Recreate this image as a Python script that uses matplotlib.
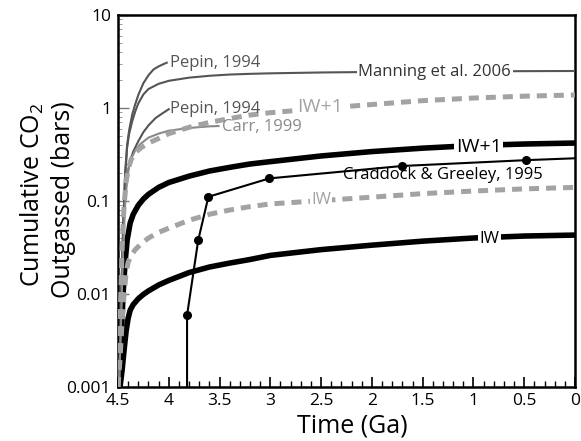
import matplotlib
matplotlib.use('Agg')
import matplotlib.pyplot as plt
from matplotlib.ticker import FixedLocator, FixedFormatter, MultipleLocator, LogLocator, NullFormatter

plt.rcParams['font.family'] = ['Open Sans', 'DejaVu Sans']
plt.rcParams['mathtext.fontset'] = 'custom'
plt.rcParams['mathtext.rm'] = 'Open Sans'
plt.rcParams['mathtext.default'] = 'regular'

# ---- data (time in Ga, cumulative CO2 in bars) ----
manning_t = [4.49, 4.47, 4.45, 4.43, 4.41, 4.39, 4.36, 4.33, 4.30, 4.25, 4.2, 4.1, 4.0, 3.8, 3.6, 3.4,
             3.2, 3.0, 2.5, 2.0, 1.5, 1.0, 0.5, 0.0]
manning_y = [0.001, 0.008, 0.05, 0.18, 0.38, 0.53, 0.72, 0.92, 1.12, 1.4, 1.6, 1.82, 1.96, 2.12, 2.22, 2.29,
             2.33, 2.36, 2.41, 2.44, 2.46, 2.48, 2.49, 2.5]

pepin_hi_t = [4.49, 4.47, 4.45, 4.43, 4.41, 4.39, 4.36, 4.33, 4.30, 4.25, 4.2, 4.15, 4.1, 4.05, 4.02]
pepin_hi_y = [0.001, 0.008, 0.05, 0.2, 0.4, 0.58, 0.85, 1.1, 1.38, 1.85, 2.25, 2.6, 2.8, 2.97, 3.07]

pepin_lo_t = [4.49, 4.47, 4.45, 4.43, 4.41, 4.38, 4.35, 4.30, 4.25, 4.2, 4.13, 4.06, 4.0]
pepin_lo_y = [0.001, 0.006, 0.04, 0.11, 0.19, 0.27, 0.34, 0.44, 0.55, 0.65, 0.78, 0.88, 0.97]

carr_t = [4.49, 4.47, 4.45, 4.43, 4.41, 4.39, 4.36, 4.33, 4.28, 4.2, 4.1, 4.0, 3.8, 3.6, 3.51]
carr_y = [0.001, 0.005, 0.03, 0.09, 0.17, 0.24, 0.3, 0.35, 0.41, 0.48, 0.53, 0.57, 0.61, 0.635, 0.64]

iw1_gray_t = [4.50, 4.48, 4.46, 4.44, 4.42, 4.40, 4.37, 4.33, 4.28, 4.2, 4.1, 4.0, 3.8, 3.6, 3.4, 3.2,
              3.0, 2.5, 2.0, 1.5, 1.0, 0.5, 0.0]
iw1_gray_y = [0.001, 0.005, 0.03, 0.09, 0.16, 0.22, 0.28, 0.33, 0.37, 0.42, 0.47, 0.53, 0.62, 0.7, 0.77, 0.84,
              0.89, 0.99, 1.09, 1.2, 1.28, 1.34, 1.38]

iw_gray_t = [4.50, 4.48, 4.46, 4.44, 4.42, 4.40, 4.37, 4.33, 4.28, 4.2, 4.1, 4.0, 3.8, 3.6, 3.4, 3.2,
             3.0, 2.5, 2.0, 1.5, 1.0, 0.5, 0.0]
iw_gray_y = [0.001, 0.002, 0.005, 0.01, 0.017, 0.022, 0.026, 0.03, 0.034, 0.04, 0.046, 0.051, 0.062, 0.072,
             0.08, 0.087, 0.093, 0.101, 0.11, 0.12, 0.128, 0.135, 0.14]

iw1_black_t = [4.49, 4.47, 4.45, 4.43, 4.41, 4.38, 4.35, 4.30, 4.25, 4.2, 4.1, 4.0, 3.8, 3.6, 3.4, 3.2,
               3.0, 2.5, 2.0, 1.5, 1.0, 0.5, 0.0]
iw1_black_y = [0.001, 0.003, 0.01, 0.022, 0.038, 0.058, 0.072, 0.09, 0.105, 0.118, 0.14, 0.158, 0.185, 0.21,
               0.23, 0.25, 0.265, 0.305, 0.34, 0.37, 0.395, 0.41, 0.42]

iw_black_t = [4.48, 4.46, 4.44, 4.42, 4.40, 4.38, 4.35, 4.30, 4.25, 4.2, 4.1, 4.0, 3.8, 3.6, 3.4, 3.2,
              3.0, 2.5, 2.0, 1.5, 1.0, 0.5, 0.0]
iw_black_y = [0.001, 0.0015, 0.0025, 0.004, 0.0055, 0.0067, 0.0077, 0.0089, 0.0099, 0.0108, 0.0125, 0.014,
              0.017, 0.0195, 0.0215, 0.0235, 0.026, 0.030, 0.0335, 0.037, 0.040, 0.042, 0.043]

craddock_t = [3.82, 3.82, 3.71, 3.61, 3.01, 1.70, 0.48, 0.0]
craddock_y = [0.0008, 0.0059, 0.038, 0.111, 0.175, 0.238, 0.275, 0.288]
craddock_mark_t = [3.82, 3.71, 3.61, 3.01, 1.70, 0.48]
craddock_mark_y = [0.0059, 0.038, 0.111, 0.175, 0.238, 0.275]

x_ticks = [4.5, 4.0, 3.5, 3.0, 2.5, 2.0, 1.5, 1.0, 0.5, 0.0]
x_ticklabels = ['4.5', '4', '3.5', '3', '2.5', '2', '1.5', '1', '0.5', '0']
y_ticks = [0.001, 0.01, 0.1, 1, 10]
y_ticklabels = ['0.001', '0.01', '0.1', '1', '10']

# ---- figure ----
W, H = 581, 441
fig = plt.figure(figsize=(W / 100, H / 100), dpi=100)
ax = fig.add_axes([118 / W, 1 - 387 / H, 457 / W, 372 / H])
ax.set_yscale('log')
ax.set_xlim(4.5, 0)
ax.set_ylim(0.001, 10)

dgray = '#555555'
mgray = '#8a8a8a'
lgray = '#a3a3a3'

ax.plot(manning_t, manning_y, color=dgray, lw=1.5, zorder=3)
ax.plot(pepin_hi_t, pepin_hi_y, color=dgray, lw=1.5, zorder=3)
ax.plot(pepin_lo_t, pepin_lo_y, color=dgray, lw=1.5, zorder=3)
ax.plot(carr_t, carr_y, color=mgray, lw=1.5, zorder=3)

ax.plot(iw1_black_t, iw1_black_y, color='black', lw=4.0, zorder=2, solid_capstyle='butt')
ax.plot(iw_black_t, iw_black_y, color='black', lw=4.0, zorder=2, solid_capstyle='butt')

l1, = ax.plot(iw1_gray_t, iw1_gray_y, color=lgray, lw=3.6, zorder=4)
l1.set_dashes((2.0, 1.4))
l2, = ax.plot(iw_gray_t, iw_gray_y, color=lgray, lw=3.6, zorder=4)
l2.set_dashes((2.0, 1.4))

ax.plot(craddock_t, craddock_y, color='black', lw=1.5, zorder=5)
ax.plot(craddock_mark_t, craddock_mark_y, 'o', color='black', ms=5.5, zorder=6)

# ---- labels on curves ----
tfs = 12
wb = dict(facecolor='white', edgecolor='none', pad=1.0)
ax.text(3.99, 3.07, 'Pepin, 1994', color=dgray, fontsize=tfs, ha='left', va='center', zorder=7)
ax.text(3.99, 0.97, 'Pepin, 1994', color=dgray, fontsize=tfs, ha='left', va='center', zorder=7)
ax.text(3.48, 0.62, 'Carr, 1999', color=mgray, fontsize=tfs, ha='left', va='center', zorder=7)
ax.text(1.38, 2.44, 'Manning et al. 2006', color='#333333', fontsize=tfs, ha='center', va='center', bbox=wb, zorder=7)
ax.text(2.51, 1.03, 'IW+1', color=lgray, fontsize=tfs + 2, ha='center', va='center', bbox=wb, zorder=7)
ax.text(0.95, 0.38, 'IW+1', color='black', fontsize=tfs + 2, ha='center', va='center', bbox=wb, zorder=7)
ax.text(1.30, 0.19, 'Craddock & Greeley, 1995', color='black', fontsize=tfs, ha='center', va='center', zorder=7)
ax.text(2.50, 0.1026, 'IW', color=lgray, fontsize=tfs, ha='center', va='center', bbox=wb, zorder=7)
ax.text(0.84, 0.039, 'IW', color='black', fontsize=tfs, ha='center', va='center', bbox=wb, zorder=7)

# ---- ticks ----
ax.xaxis.set_major_locator(FixedLocator(x_ticks))
ax.xaxis.set_major_formatter(FixedFormatter(x_ticklabels))
ax.xaxis.set_minor_locator(MultipleLocator(0.1))
ax.yaxis.set_major_locator(FixedLocator(y_ticks))
ax.yaxis.set_major_formatter(FixedFormatter(y_ticklabels))
ax.yaxis.set_minor_locator(LogLocator(base=10, subs=range(2, 10)))
ax.yaxis.set_minor_formatter(NullFormatter())
ax.tick_params(axis='x', which='major', direction='in', length=7, width=1.2, labelsize=12.5, pad=4)
ax.tick_params(axis='x', which='minor', direction='in', length=4.5, width=1.0)
ax.tick_params(axis='y', which='major', direction='in', length=8, width=1.0, color='#777777', labelsize=12.5, pad=5)
ax.tick_params(axis='y', which='minor', direction='in', length=3, width=0.7, color='#999999')

for s in ax.spines.values():
    s.set_linewidth(1.8)
    s.set_color('black')

# ---- axis titles ----
fig.text(352 / W, 1 - 426 / H, 'Time (Ga)', fontsize=18, ha='center', va='center')
fig.text(32 / W, 1 - 195 / H, 'Cumulative CO$_2$', fontsize=18, rotation=90, ha='center', va='center')
fig.text(63 / W, 1 - 200 / H, 'Outgassed (bars)', fontsize=18, rotation=90, ha='center', va='center')

fig.savefig('out.png', dpi=100, facecolor='white')
